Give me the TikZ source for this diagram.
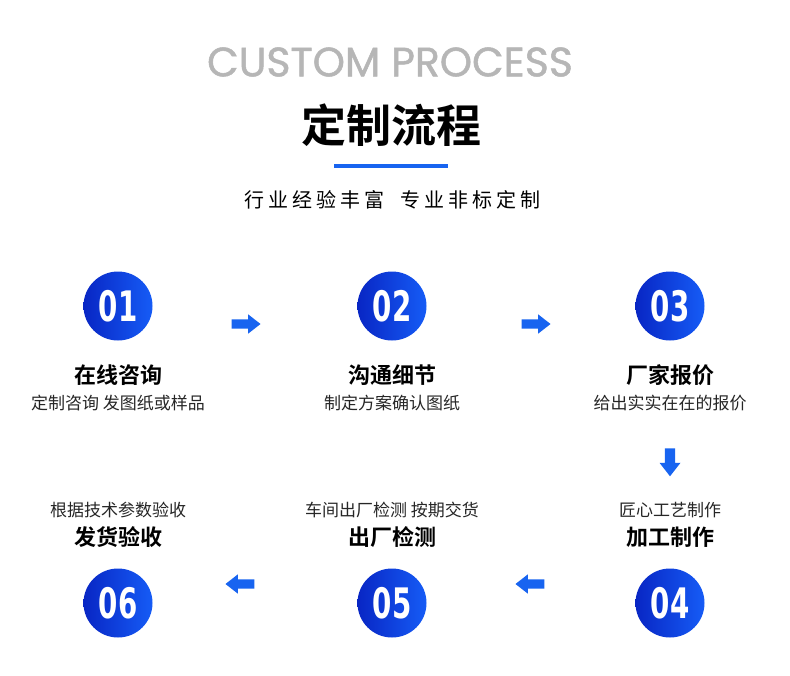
\documentclass[tikz,border=0pt]{standalone}
\usepackage{fontspec}
\setmainfont{Noto Sans CJK SC}[BoldFont={Noto Sans CJK SC Bold}]
\newfontfamily\enfont{Poppins}[FakeBold=1.2]
\newfontfamily\numfont{DejaVu Sans}
\usetikzlibrary{shapes.arrows}

\definecolor{darkblue}{RGB}{8,38,196}
\definecolor{lightblue}{RGB}{22,92,246}
\definecolor{arrowblue}{RGB}{24,100,240}
\definecolor{titlegray}{RGB}{182,182,182}

\begin{document}
\begin{tikzpicture}[x=1pt, y=-1pt, inner sep=0pt,
    numcircle/.style = {circle, minimum size=69pt, left color=darkblue, right color=lightblue, text=white, font=\numfont\bfseries\fontsize{42}{42}\selectfont},
    steptitle/.style = {font=\bfseries\fontsize{22}{22}\selectfont},
    stepsub/.style = {font=\fontsize{17}{17}\selectfont, text=black!85},
    arr/.style = {single arrow, fill=arrowblue, inner xsep=0pt, inner ysep=4.5pt, minimum height=29pt, minimum width=19pt, single arrow head extend=5pt, single arrow tip angle=76}]
    \fill[white] (0,0) rectangle (790,675);
    \useasboundingbox (0,0) rectangle (790,675);

    % heading
    \node[font=\enfont\fontsize{41}{41}\selectfont, text=titlegray] (en) at (390,62) {CUSTOM PROCESS};
    \node[font=\bfseries\fontsize{45}{45}\selectfont] (cn) at (391,125) {定制流程};
    \fill[arrowblue] (334,164) rectangle (448,168);
    \node[font=\fontsize{20}{20}\selectfont\addfontfeature{LetterSpace=20}] (slogan) at (392,200) {行业经验丰富\hspace{16pt}专业非标定制};

    % top row
    \node[numcircle] (c1) at (118,306) {\scalebox{0.66}[1]{01}};
    \node[numcircle] (c2) at (392,306) {\scalebox{0.66}[1]{02}};
    \node[numcircle] (c3) at (670,306) {\scalebox{0.66}[1]{03}};
    \node[steptitle] (t1) at (118,375) {在线咨询};
    \node[steptitle] (t2) at (392,375) {沟通细节};
    \node[steptitle] (t3) at (670,375) {厂家报价};
    \node[stepsub] (s1) at (118,403) {定制咨询 发图纸或样品};
    \node[stepsub] (s2) at (392,403) {制定方案确认图纸};
    \node[stepsub] (s3) at (670,403) {给出实实在在的报价};

    % bottom row
    \node[stepsub] (s6) at (118,510) {根据技术参数验收};
    \node[stepsub] (s5) at (392,510) {车间出厂检测 按期交货};
    \node[stepsub] (s4) at (670,510) {匠心工艺制作};
    \node[steptitle] (t6) at (118,537) {发货验收};
    \node[steptitle] (t5) at (392,537) {出厂检测};
    \node[steptitle] (t4) at (670,537) {加工制作};
    \node[numcircle] (c6) at (118,603) {\scalebox{0.66}[1]{06}};
    \node[numcircle] (c5) at (392,603) {\scalebox{0.66}[1]{05}};
    \node[numcircle] (c4) at (670,603) {\scalebox{0.66}[1]{04}};

    % arrows
    \node[arr] (a12) at (243,324) {};
    \node[arr] (a23) at (533,324) {};
    \node[arr, rotate=270, minimum height=28pt, minimum width=21pt] (a34) at (670,459) {};
    \node[arr, rotate=180] (a45) at (533,584) {};
    \node[arr, rotate=180] (a56) at (243,584) {};
\end{tikzpicture}
\end{document}
